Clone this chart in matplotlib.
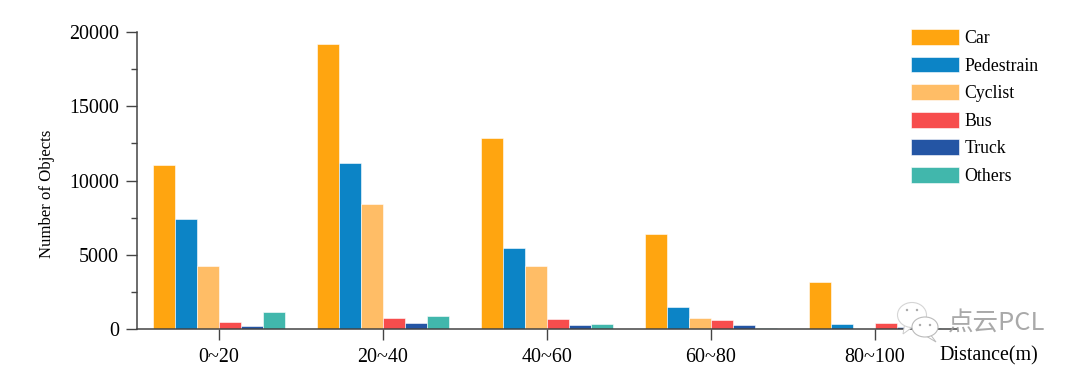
import numpy as np
import matplotlib
matplotlib.use('Agg')
import matplotlib.pyplot as plt
from matplotlib.patches import Ellipse, Circle, Polygon

distance_labels = ['0~20', '20~40', '40~60', '60~80', '80~100']
car = [11050, 19200, 12850, 6400, 3170]
pedestrain = [7380, 11150, 5440, 1480, 340]
cyclist = [4230, 8450, 4230, 720, 0]
bus = [470, 770, 690, 620, 420]
truck = [200, 400, 280, 250, 130]
others = [1170, 900, 360, 80, 40]

series_names = ['Car', 'Pedestrain', 'Cyclist', 'Bus', 'Truck', 'Others']
series_values = [car, pedestrain, cyclist, bus, truck, others]
series_colors = ['#FFA510', '#0C84C6', '#FFBD66', '#F74D4D', '#2455A4', '#41B7AC']

plt.rcParams['font.family'] = ['Liberation Serif', 'DejaVu Serif']

W, H = 1080, 372
fig = plt.figure(figsize=(W / 100, H / 100), dpi=100)
ax = fig.add_axes([137 / W, 1 - 329 / H, (957 - 137) / W, (329 - 32) / H])

x = np.arange(len(distance_labels))
bar_w = 22 / 164
for i, (name, vals, col) in enumerate(zip(series_names, series_values, series_colors)):
    ax.bar(x + (i - 2.5) * bar_w, vals, bar_w, color=col, label=name,
           edgecolor='white', linewidth=0.4, zorder=2)

ax.set_xlim(-0.5, 4.5)
ax.set_ylim(0, 20000)
ax.set_xticks(x)
ax.set_xticklabels(distance_labels, fontsize=14.4)
ax.set_yticks([0, 5000, 10000, 15000, 20000])
ax.set_yticks([2500, 7500, 12500, 17500], minor=True)
ax.tick_params(axis='y', which='major', labelsize=14.4, length=8, width=1, color='#444444', pad=5)
ax.tick_params(axis='y', which='minor', length=4, width=1, color='#444444')
ax.tick_params(axis='x', which='major', length=8, width=1, color='#444444', pad=6)
for s in ['top', 'right']:
    ax.spines[s].set_visible(False)
for s in ['left', 'bottom']:
    ax.spines[s].set_color('#444444')
    ax.spines[s].set_linewidth(1.1)
    ax.spines[s].set_zorder(3)

fig.text(47 / W, 1 - 194 / H, 'Number of Objects', rotation=90, fontsize=12.1, ha='center', va='center')
fig.text(939 / W, 1 - 356 / H, 'Distance(m)', fontsize=14.4, ha='left', va='center')

ax.legend(loc='upper left', bbox_to_anchor=(911 / W, 1 - 29 / H), bbox_transform=fig.transFigure,
          frameon=False, fontsize=12.8, handlelength=2.7, handleheight=1.0,
          handletextpad=0.3, labelspacing=0.535, borderaxespad=0, borderpad=0)

# watermark
px = fig.add_axes([0, 0, 1, 1], facecolor='none')
px.set_xlim(0, W)
px.set_ylim(H, 0)
px.axis('off')
px.add_patch(Polygon([[905, 322], [903, 334], [914, 326]], fc='white', ec='#cccccc', lw=0.7))
px.add_patch(Ellipse((912, 315), 29, 25, fc='white', ec='#d5d5d5', lw=0.8))
px.add_patch(Polygon([[930, 334], [936, 342], [926, 336]], fc='white', ec='#bbbbbb', lw=0.7))
px.add_patch(Ellipse((925, 327), 26, 20, fc='white', ec='#bbbbbb', lw=0.8))
for cx, cy in [(907, 310), (917, 310), (920, 325), (930, 325)]:
    px.add_patch(Circle((cx, cy), 1.2, fc='#a8a8a8', ec='none'))
px.text(948, 323, '点云PCL', fontsize=18.4, color='#9a9a9a', alpha=0.85,
        family=['Noto Sans CJK SC', 'DejaVu Sans'], ha='left', va='center')

fig.savefig('out.png', dpi=100)
